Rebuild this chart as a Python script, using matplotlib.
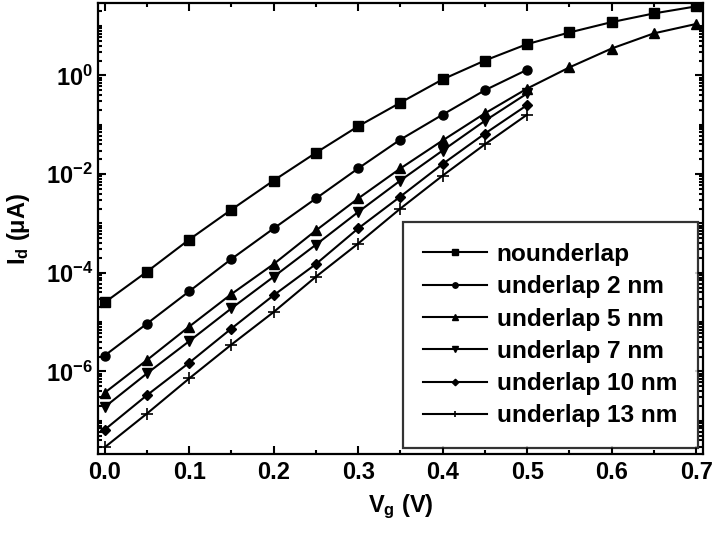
import numpy as np
import matplotlib
matplotlib.use("Agg")
import matplotlib.pyplot as plt
from matplotlib.ticker import (LogLocator, FuncFormatter, MultipleLocator,
                               NullFormatter, FixedLocator)

plt.rcParams['font.family'] = ['Liberation Sans', 'DejaVu Sans']
plt.rcParams['font.weight'] = 'bold'
plt.rcParams['mathtext.fontset'] = 'custom'
plt.rcParams['mathtext.rm'] = 'Liberation Sans:bold'
plt.rcParams['mathtext.bf'] = 'Liberation Sans:bold'
plt.rcParams['mathtext.it'] = 'Liberation Sans:bold'

# gate voltage (V)
vg_long = [0.0, 0.05, 0.1, 0.15, 0.2, 0.25, 0.3, 0.35, 0.4, 0.45, 0.5, 0.55, 0.6, 0.65, 0.7]
vg_short = [0.0, 0.05, 0.1, 0.15, 0.2, 0.25, 0.3, 0.35, 0.4, 0.45, 0.5]

# drain current (uA)
id_nounderlap = [2.5e-5, 1.05e-4, 4.7e-4, 1.9e-3, 7.4e-3, 2.7e-2, 9.3e-2, 0.28, 0.83, 2.0, 4.3, 7.4, 12, 18, 25]
id_under2 = [2.1e-6, 9.3e-6, 4.2e-5, 1.9e-4, 7.9e-4, 3.2e-3, 1.3e-2, 5.0e-2, 0.16, 0.50, 1.3]
id_under5 = [3.7e-7, 1.7e-6, 8.1e-6, 3.7e-5, 1.5e-4, 7.2e-4, 3.2e-3, 1.3e-2, 4.8e-2, 0.17, 0.54, 1.45, 3.5, 7.1, 11]
id_under7 = [1.9e-7, 9.1e-7, 4.1e-6, 1.9e-5, 8.3e-5, 3.7e-4, 1.7e-3, 7.4e-3, 3.0e-2, 0.12, 0.43]
id_under10 = [6.6e-8, 3.3e-7, 1.5e-6, 7.4e-6, 3.5e-5, 1.5e-4, 7.9e-4, 3.5e-3, 1.6e-2, 6.6e-2, 0.25]
id_under13 = [2.9e-8, 1.4e-7, 7.2e-7, 3.5e-6, 1.6e-5, 8.3e-5, 3.9e-4, 2.0e-3, 9.3e-3, 4.0e-2, 0.16]

y_ticks = [1e-6, 1e-4, 1e-2, 1e0]

fig = plt.figure(figsize=(7.15, 5.35), dpi=100)
ax = fig.add_axes([0.137, 0.151, 0.846, 0.843])

ax.plot(vg_long, id_nounderlap, 'k-', marker='s', ms=6.5, lw=1.5, label='nounderlap')
ax.plot(vg_short, id_under2, 'k-', marker='o', ms=6.5, lw=1.5, label='underlap 2 nm')
ax.plot(vg_long, id_under5, 'k-', marker='^', ms=7, lw=1.5, label='underlap 5 nm')
ax.plot(vg_short, id_under7, 'k-', marker='v', ms=7, lw=1.5, label='underlap 7 nm')
ax.plot(vg_short, id_under10, 'k-', marker='D', ms=5.5, lw=1.5, label='underlap 10 nm')
ax.plot(vg_short, id_under13, 'k-', marker='+', ms=8, mew=1.2, lw=1.5, label='underlap 13 nm')

ax.set_yscale('log')
ax.set_xlim(-0.008, 0.708)
ax.set_ylim(2.1e-8, 29)

ax.xaxis.set_major_locator(MultipleLocator(0.1))
ax.xaxis.set_minor_locator(MultipleLocator(0.05))
ax.xaxis.set_major_formatter(FuncFormatter(lambda v, p: f'{v:.1f}'))

ax.yaxis.set_major_locator(FixedLocator(y_ticks))
ax.yaxis.set_minor_locator(LogLocator(base=10, subs=np.arange(1, 10), numticks=20))
ax.yaxis.set_minor_formatter(NullFormatter())
ax.yaxis.set_major_formatter(FuncFormatter(
    lambda v, p: r'$\mathbf{10^{%d}}$' % int(round(np.log10(v)))))

ax.tick_params(which='both', direction='in', top=True, right=True, labelsize=17, width=1.5)
ax.tick_params(which='major', length=6)
ax.tick_params(which='minor', length=3)
ax.tick_params(axis='x', which='major', pad=5)
for s in ax.spines.values():
    s.set_linewidth(1.6)

ax.set_xlabel(r'$\mathbf{V_g}$ (V)', fontsize=17, fontweight='bold', labelpad=6)
ax.set_ylabel(r'$\mathbf{I_d}$ (μA)', fontsize=17, fontweight='bold', labelpad=10)

leg = ax.legend(loc='lower right', fontsize=17.6, frameon=True, fancybox=False,
                edgecolor='black', markerscale=0.6, handlelength=2.6, handletextpad=0.4,
                labelspacing=0.38, borderpad=0.85, borderaxespad=0,
                bbox_to_anchor=(0.9917, 0.0133))
leg.get_frame().set_linewidth(1.6)

fig.savefig('out.png', dpi=100)
